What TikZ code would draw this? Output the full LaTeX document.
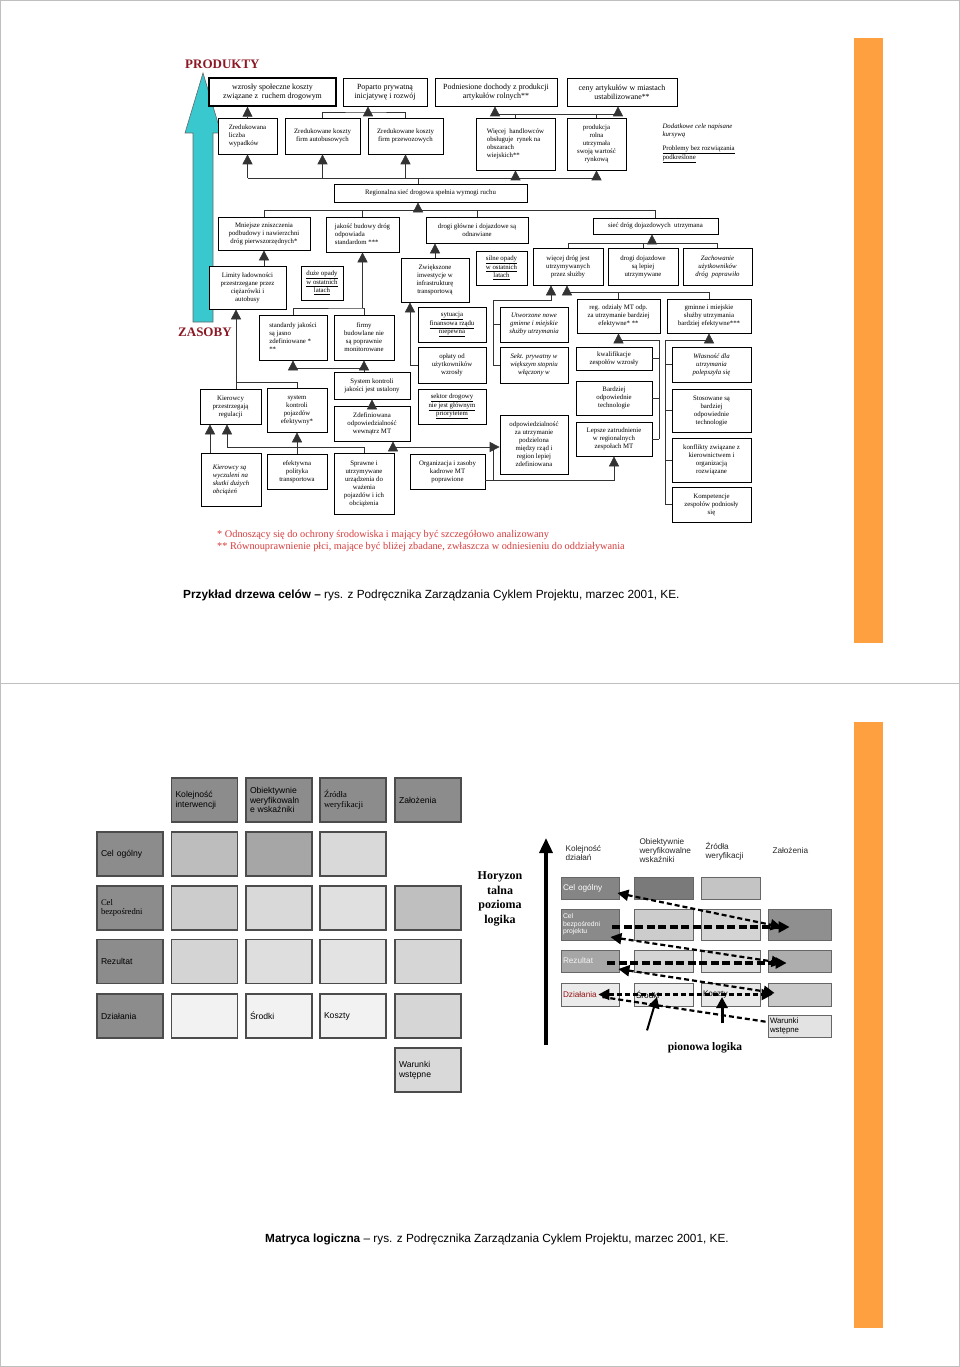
\documentclass[tikz,border=0pt]{standalone}
\usepackage{fontspec}
\setmainfont{Liberation Serif}
\newfontfamily\arial{Liberation Sans}
\usetikzlibrary{arrows.meta,calc}

\definecolor{barorange}{RGB}{255,160,64}
\definecolor{arrowteal}{RGB}{56,200,206}
\definecolor{headred}{RGB}{140,24,36}
\definecolor{notered}{RGB}{214,60,60}
\definecolor{actred}{RGB}{150,20,20}

\newcommand{\boxfont}{\fontsize{6.8}{8}\selectfont}
\newcommand{\topfont}{\fontsize{7.9}{9}\selectfont}
\newcommand{\matfont}{\arial\fontsize{8.6}{9.8}\selectfont}
\newcommand{\qfont}{\arial\fontsize{8.2}{9}\selectfont}
\newcommand{\undl}[1]{\underline{#1}}

\begin{document}
\begin{tikzpicture}
	[x=1pt,y=-1pt,
	box/.style={draw,fill=white,line width=0.7pt,inner sep=1pt,align=center,font=\boxfont},
	sz/.style 2 args={minimum width=#1pt,minimum height=#2pt},
	link/.style={draw=black!80,line width=0.7pt},
	cell/.style={draw=black!70,line width=1.1pt,minimum height=44pt,text width=58pt,
		inner sep=4pt,align=left,font=\matfont},
	qcell/.style={draw=black!60,line width=0.8pt,inner sep=2pt,align=left,font=\qfont},
	dsh/.style={line width=2.2pt,dash pattern=on 5pt off 3pt},
	dshh/.style={line width=3.6pt,dash pattern=on 8pt off 3.5pt}]
	\tikzstyle{tri}=[-{Triangle[width=10pt,length=10pt]}]
	\tikzstyle{dtip}=[-{Triangle[width=11pt,length=11pt]}]

	\useasboundingbox (0,0) rectangle (960,1367);
	\draw[black!25] (0.5,0.5) rectangle (959.5,1366.5);
	\draw[black!25] (0,683) -- (960,683);
	\fill[barorange] (854,38) rectangle (883,643);
	\fill[barorange] (854,722) rectangle (883,1328);

	%% drzewo celow
	\draw[fill=arrowteal,draw=black!60,line width=0.6pt] (193,322) -- (193,133) -- (185,133)
		-- (203,73) -- (221,133) -- (213,133) -- (213,322) -- cycle;
	\node (prod) at (185,64) [anchor=west,inner sep=0pt,text=headred,font=\fontsize{13}{15}\selectfont\bfseries] {PRODUKTY};
	\node (zas) at (178,332) [anchor=west,inner sep=0pt,text=headred,font=\fontsize{13}{15}\selectfont\bfseries] {ZASOBY};

	\node (wzr) at (272.5,92) [box,sz={127}{28},line width=1.4pt,font=\topfont] {wzrosły społeczne koszty\\związane z ~ruchem drogowym};
	\node (pop) at (385,92) [box,sz={84}{28},font=\topfont] {Poparto prywatną\\inicjatywę i rozwój};
	\node (dch) at (496,92) [box,sz={122}{28},font=\topfont] {Podniesione dochody z produkcji\\artykułów rolnych**};
	\node (cen) at (622,92) [box,sz={110}{28},font=\topfont] {ceny artykułów w miastach\\ustabilizowane**};

	\node (wyp) at (247.5,136) [box,sz={59}{36},align=left] {Zredukowana\\liczba\\wypadków};
	\node (aut) at (322.5,136) [box,sz={75}{36}] {Zredukowane koszty\\firm autobusowych};
	\node (prz) at (405.5,136) [box,sz={75}{36}] {Zredukowane koszty\\firm przewozowych};
	\node (han) at (515.5,144) [box,sz={79}{52},align=left] {Więcej ~handlowców\\obsługuje ~rynek na\\obszarach\\wiejskich**};
	\node (rol) at (596.5,144) [box,sz={59}{52}] {produkcja\\rolna\\utrzymała\\swoją wartość\\rynkową};
	\node (nota) at (659,120) [anchor=north west,align=left,font=\boxfont\itshape] {Dodatkowe cele napisane\\kursywą};
	\node (notb) at (659,142) [anchor=north west,align=left,font=\boxfont] {\undl{Problemy bez rozwiązania}\\\undl{podkreślone}};

	\node (reg) at (430.5,193) [box,sz={193}{18}] {Regionalna sieć drogowa spełnia wymogi ruchu};

	\node (mni) at (264,233.5) [box,sz={92}{33}] {Mniejsze zniszczenia\\podbudowy i nawierzchni\\dróg pierwszorzędnych*};
	\node (jak) at (362.5,234.5) [box,sz={73}{35},align=left] {jakość budowy dróg\\odpowiada\\standardom ***};
	\node (glo) at (477,230) [box,sz={102}{26}] {drogi główne i dojazdowe są\\odnawiane};
	\node (sie) at (655.5,226) [box,sz={125}{16}] {sieć dróg dojazdowych ~utrzymana};

	\node (lim) at (247.5,287.5) [box,sz={77}{43}] {Limity ładowności\\przestrzegane przez\\ciężarówki i\\autobusy};
	\node (duz) at (322,283) [box,sz={42}{34}] {\undl{duże opady}\\\undl{w ostatnich}\\\undl{latach}};
	\node (zwi) at (435,280) [box,sz={68}{44}] {Zwiększone\\inwestycje w\\infrastrukturę\\transportową};
	\node (sil) at (501.5,268) [box,sz={51}{34}] {\undl{silne opady}\\\undl{w ostatnich}\\\undl{latach}};
	\node (wie) at (568,266.5) [box,sz={70}{37}] {więcej dróg jest\\utrzymywanych\\przez służby};
	\node (doj) at (643,266.5) [box,sz={70}{37}] {drogi dojazdowe\\są lepiej\\utrzymywane};
	\node (zac) at (717.5,266.5) [box,sz={69}{37},font=\boxfont\itshape] {Zachowanie\\użytkowników\\dróg ~poprawiło};

	\node (std) at (293,337.5) [box,sz={68}{45},align=left] {standardy jakości\\są jasno\\zdefiniowane *\\**};
	\node (frm) at (364,337.5) [box,sz={60}{45}] {firmy\\budowlane nie\\są poprawnie\\monitorowane};
	\node (syt) at (452,324.5) [box,sz={68}{35}] {\undl{sytuacja}\\\undl{finansowa rządu}\\\undl{niepewna}};
	\node (opl) at (452,365) [box,sz={68}{36}] {opłaty od\\użytkowników\\wzrosły};
	\node (sek) at (452,406.5) [box,sz={68}{35}] {\undl{sektor drogowy}\\\undl{nie jest głównym}\\\undl{priorytetem}};
	\node (utw) at (534,324.5) [box,sz={68}{35},font=\boxfont\itshape] {Utworzone nowe\\gminne i miejskie\\służby utrzymania};
	\node (spr) at (534,365) [box,sz={68}{36},font=\boxfont\itshape] {Sekt. prywatny w\\większym stopniu\\włączony w};
	\node (odz) at (618.5,316) [box,sz={83}{34}] {reg. odziały MT odp.\\za utrzymanie bardziej\\efektywne* **};
	\node (gmi) at (709,316) [box,sz={84}{34}] {gminne i miejskie\\służby utrzymania\\bardziej efektywne***};

	\node (kwa) at (614,358.5) [box,sz={76}{23}] {kwalifikacje\\zespołów wzrosły};
	\node (tec) at (614,398) [box,sz={76}{34}] {Bardziej\\odpowiednie\\technologie};
	\node (lep) at (614,439) [box,sz={76}{34}] {Lepsze zatrudnienie\\w regionalnych\\zespołach MT};
	\node (wla) at (711.5,364.5) [box,sz={79}{35},font=\boxfont\itshape] {Własność dla\\utrzymania\\polepszyła się};
	\node (sto) at (711.5,410.5) [box,sz={79}{43}] {Stosowane są\\bardziej\\odpowiednie\\technologie};
	\node (kon) at (711.5,460) [box,sz={79}{44}] {konflikty związane z\\kierownictwem i\\organizacją\\rozwiązane};
	\node (kom) at (711.5,504.5) [box,sz={79}{35}] {Kompetencje\\zespołów podniosły\\się};

	\node (sys) at (372,385.5) [box,sz={76}{27}] {System kontroli\\jakości jest ustalony};
	\node (zdf) at (372,423.5) [box,sz={76}{35}] {Zdefiniowana\\odpowiedzialność\\wewnątrz MT};
	\node (kie) at (230.5,406.5) [box,sz={61}{35}] {Kierowcy\\przestrzegają\\regulacji};
	\node (skp) at (297,410) [box,sz={60}{44}] {system\\kontroli\\pojazdów\\efektywny*};
	\node (kwy) at (231,479.5) [box,sz={60}{53},align=left,font=\boxfont\itshape] {Kierowcy są\\wyczuleni na\\skutki dużych\\obciążeń};
	\node (pol) at (297,471.5) [box,sz={60}{35}] {efektywna\\polityka\\transportowa};
	\node (wa) at (364,483.5) [box,sz={60}{61}] {Sprawne i\\utrzymywane\\urządzenia do\\ważenia\\pojazdów i ich\\obciążenia};
	\node (org) at (447.5,471.5) [box,sz={75}{35}] {Organizacja i zasoby\\kadrowe MT\\poprawione};
	\node (odp) at (534,444.5) [box,sz={68}{59}] {odpowiedzialność\\za utrzymanie\\podzielona\\między rząd i\\region lepiej\\zdefiniowana};

	% polaczenia
	\coordinate (jA) at (368,112);
	\coordinate (jB1) at (495,114);
	\coordinate (jB2) at (618,114);
	\coordinate (jR) at (418,178);
	\coordinate (jS) at (418,210);
	\coordinate (jC) at (362.5,308);
	\coordinate (jD) at (652,243);
	\coordinate (jE) at (410,365);
	\coordinate (jF) at (493,300);
	\coordinate (jF2) at (551,300);
	\coordinate (jH) at (567,292);
	\coordinate (jI) at (659,340);
	\coordinate (jG) at (665,340);
	\coordinate (jJ) at (364,368);
	\coordinate (jK) at (236,382);
	\coordinate (jL) at (210,440);
	\coordinate (jM) at (227,447);
	\coordinate (jN) at (493,447);
	\coordinate (jO) at (493,480);
	\coordinate (jP) at (393,447);

	\draw[link,tri] (wyp.north) -- (wyp.north |- wzr.south);
	\draw[link] (aut.north) |- (jA) -| (prz.north);
	\draw[link,tri] (jA) -- (jA |- pop.south);
	\draw[link] (jB1) -- (jB2);
	\draw[link] (han.north) -- (han.north |- jB1);
	\draw[link] (rol.north) -- (rol.north |- jB1);
	\draw[link,tri] (jB1) -- (jB1 |- dch.south);
	\draw[link,tri] (jB2) -- (jB2 |- cen.south);

	\draw[link] (wyp.south |- jR) -- (rol.south |- jR);
	\draw[link] (reg.north -| jR) -- (jR);
	\foreach \n in {wyp,aut,prz,han,rol}
		\draw[link,tri] (\n.south |- jR) -- (\n.south);

	\draw[link] (mni.north |- jS) -- (sie.north |- jS);
	\foreach \n in {mni,jak,glo,sie}
		\draw[link] (\n.north |- jS) -- (\n.north);
	\draw[link,tri] (jS) -- (jS |- reg.south);

	\draw[link,tri] (lim.north -| mni.south) -- (mni.south);
	\draw[link] (std.north) |- (jC) -| (frm.north);
	\draw[link,tri] (jC) -- (jak.south);
	\draw[link,tri] (zwi.north) -- (zwi.north |- glo.south);
	\draw[link] (wie.north |- jD) -- (zac.north |- jD);
	\foreach \n in {wie,doj,zac}
		\draw[link] (\n.north |- jD) -- (\n.north);
	\draw[link,tri] (jD) -- (jD |- sie.south);

	\draw[link,tri] (opl.west |- jE) -| (zwi.south -| jE);
	\draw[link,tri] (spr.west) -| (jF) -- (jF2) -- (jF2 |- wie.south);
	\draw[link] (utw.west) -- (utw.west -| jF);
	\draw[link] (jH) -| (gmi.north);
	\draw[link] (odz.north) -- (odz.north |- jH);
	\draw[link,tri] (jH) -- (jH |- wie.south);

	\draw[link] (odz.south |- jI) -- (jI) -- (jI |- lep.east);
	\foreach \n in {kwa,tec,lep}
		\draw[link] (\n.east) -- (\n.east -| jI);
	\draw[link,tri] (odz.south |- jI) -- (odz.south);
	\draw[link] (gmi.south |- jG) -- (jG) -- (jG |- kom.west);
	\foreach \n in {wla,sto,kon,kom}
		\draw[link] (\n.west) -- (\n.west -| jG);
	\draw[link,tri] (gmi.south |- jG) -- (gmi.south);

	\draw[link,tri] (sys.north -| frm.south) -- (frm.south);
	\draw[link] (jJ) -- (jJ -| std.south);
	\draw[link,tri] (std.south |- jJ) -- (std.south);
	\draw[link,tri] (zdf.north) -- (sys.south);

	\draw[link,tri] (kie.north -| jK) -- (lim.south -| jK);
	\draw[link] (jK) -| (skp.north);
	\draw[link,tri] (kwy.north -| jL) -- (kie.south -| jL);
	\draw[link,tri] (wa.north) |- (jM) -- (jM |- kie.south);
	\draw[link,tri] (pol.north) -- (skp.south);

	\draw[link] (jP) -- (jN) -- (jO);
	\draw[link,tri] (jP) -- (jP |- zdf.south);
	\draw[link,tri] (jN) -- (jN -| odp.west);
	\draw[link,tri] (org.east |- jO) -| (lep.south);

	\node (fn1) at (217,535) [anchor=west,inner sep=0pt,text=notered,font=\fontsize{10.3}{12}\selectfont]
		{* Odnoszący się do ochrony środowiska i mający być szczegółowo analizowany};
	\node (fn2) at (217,547) [anchor=west,inner sep=0pt,text=notered,font=\fontsize{10.3}{12}\selectfont]
		{** Równouprawnienie płci, mające być bliżej zbadane, zwłaszcza w odniesieniu do oddziaływania};
	\node (cap1) at (183,595) [anchor=west,inner sep=0pt,font=\arial\fontsize{11.8}{14}\selectfont]
		{\textbf{Przykład drzewa celów –} rys. z Podręcznika Zarządzania Cyklem Projektu, marzec 2001, KE.};

	%% matryca (lewa)
	\node (h1) at (204.5,800) [cell,fill=black!45] {Kolejność\\interwencji};
	\node (h2) at (279,800) [cell,fill=black!45] {Obiektywnie\\weryfikowaln\\e wskaźniki};
	\node (h3) at (353,800) [cell,fill=black!45,font=\fontsize{8.6}{9.8}\selectfont] {Źródła\\weryfikacji};
	\node (h4) at (428,800) [cell,fill=black!45] {Założenia};
	\node (l1) at (130,854) [cell,fill=black!45] {Cel ogólny};
	\node (l2) at (130,908) [cell,fill=black!45,font=\fontsize{8.6}{9.8}\selectfont] {Cel\\bezpośredni};
	\node (l3) at (130,961.5) [cell,fill=black!45] {Rezultat};
	\node (l4) at (130,1016) [cell,fill=black!45] {Działania};
	\foreach \n/\x/\y/\g in {m11/204.5/854/26,m12/279/854/35,m13/353/854/15,
		m21/204.5/908/20,m22/279/908/15,m23/353/908/12,m24/428/908/25,
		m31/204.5/961.5/17,m32/279/961.5/13,m33/353/961.5/11,m34/428/961.5/16,
		m41/204.5/1016/5,m44/428/1016/16}
		\node (\n) at (\x,\y) [cell,fill=black!\g] {};
	\node (m42) at (279,1016) [cell,fill=black!5] {Środki};
	\node (m43) at (353,1016) [cell,fill=black!5] {Koszty};
	\node (m54) at (428,1070) [cell,fill=black!15] {Warunki\\wstępne};

	%% matryca (prawa)
	\draw[line width=3.5pt,-{Triangle[width=13pt,length=15pt]}] (546,1045) -- (546,838);
	\node (hor) at (500,899) [align=center,font=\fontsize{12}{14.5}\selectfont\bfseries] {Horyzon\\talna\\pozioma\\logika};
	\node (k1) at (562,853.5) [anchor=west,align=left,font=\qfont,text=black!85] {Kolejność\\działań};
	\node (k2) at (636,851) [anchor=west,align=left,font=\qfont,text=black!85] {Obiektywnie\\weryfikowalne\\wskaźniki};
	\node (k3) at (702,851) [anchor=west,align=left,font=\qfont,text=black!85] {Źródła\\weryfikacji};
	\node (k4) at (769,851) [anchor=west,align=left,font=\qfont,text=black!85] {Założenia};

	\node (q11) at (590,888) [qcell,minimum height=22pt,text width=54pt,fill=black!48,text=white] {Cel ogólny};
	\node (q12) at (663.5,888) [qcell,minimum height=22pt,text width=55pt,fill=black!52] {};
	\node (q13) at (730.5,888) [qcell,minimum height=22pt,text width=55pt,fill=black!23] {};
	\node (q21) at (590,924.5) [qcell,minimum height=31pt,text width=54pt,fill=black!46,text=white,
		font=\arial\fontsize{6.8}{7.6}\selectfont] {Cel\\bezpośredni\\projektu};
	\node (q22) at (663.5,924.5) [qcell,minimum height=31pt,text width=55pt,fill=black!20] {};
	\node (q23) at (730.5,924.5) [qcell,minimum height=31pt,text width=55pt,fill=black!17] {};
	\node (q24) at (799.5,924.5) [qcell,minimum height=31pt,text width=59pt,fill=black!44] {};
	\node (q31) at (590,961) [qcell,minimum height=22pt,text width=54pt,fill=black!35,text=black!5] {Rezultat};
	\node (q32) at (663.5,961) [qcell,minimum height=22pt,text width=55pt,fill=black!17] {};
	\node (q33) at (730.5,961) [qcell,minimum height=22pt,text width=55pt,fill=black!14] {};
	\node (q34) at (799.5,961) [qcell,minimum height=22pt,text width=59pt,fill=black!32] {};
	\node (q41) at (590,994.5) [qcell,minimum height=23pt,text width=54pt,fill=black!8,text=actred] {Działania};
	\node (q42) at (663.5,994.5) [qcell,minimum height=23pt,text width=55pt,fill=black!7] {Środki};
	\node (q43) at (730.5,994.5) [qcell,minimum height=23pt,text width=55pt,fill=black!9] {Koszty};
	\node (q44) at (799.5,994.5) [qcell,minimum height=23pt,text width=59pt,fill=black!21] {};
	\node (q54) at (799.5,1026) [qcell,minimum height=22pt,text width=59pt,fill=black!11,
		font=\arial\fontsize{7.8}{8.6}\selectfont] {Warunki\\wstępne};

	% logika pozioma i pionowa
	\draw[dsh,{Triangle[width=11pt,length=11pt]}-{Triangle[width=11pt,length=11pt]}]
		($(q11.east)+(-2,5)$) -- ($(q24.west)+(14,2.5)$);
	\draw[dshh,dtip] ($(q21.east)+(-7,2.5)$) -- ($(q24.west)+(22,2.5)$);
	\draw[dsh,{Triangle[width=11pt,length=11pt]}-{Triangle[width=11pt,length=11pt]}]
		($(q21.east)+(-9,12.5)$) -- ($(q34.west)+(15,2)$);
	\draw[dshh,dtip] ($(q31.east)+(-12,2)$) -- ($(q34.west)+(19,2)$);
	\draw[dsh,{Triangle[width=11pt,length=11pt]}-{Triangle[width=11pt,length=11pt]}]
		($(q31.east)+(-1,8)$) -- ($(q44.west)+(7,-1.5)$);
	\draw[dsh,{Triangle[width=11pt,length=11pt]}-{Triangle[width=11pt,length=11pt]}]
		($(q41.east)+(-21,0)$) -- ($(q44.west)+(5,0)$);
	\draw[dsh] ($(q41.east)+(-17,2.5)$) -- ($(q54.west)+(0,-4)$);
	\draw[line width=2pt,dtip] ($(q42.south)+(-16.5,24)$) -- ($(q42.center)+(-6.5,2.5)$);
	\draw[line width=3pt,dtip] ($(q43.south)+(-8.5,17)$) -- ($(q43.center)+(-8.5,2.5)$);
	\node (pio) at (705,1048) [font=\fontsize{11.5}{13}\selectfont\bfseries] {pionowa logika};

	\node (cap2) at (265,1239) [anchor=west,inner sep=0pt,font=\arial\fontsize{11.8}{14}\selectfont]
		{\textbf{Matryca logiczna} – rys. z Podręcznika Zarządzania Cyklem Projektu, marzec 2001, KE.};
\end{tikzpicture}
\end{document}
